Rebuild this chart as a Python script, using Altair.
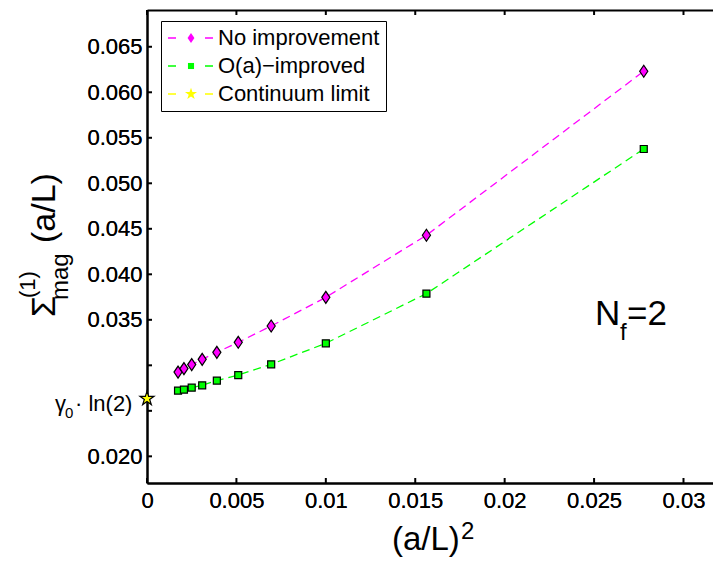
import altair as alt
import pandas as pd

FONT = "Liberation Sans"

inv_L2 = [0.001736, 0.002066, 0.0025, 0.003086, 0.003906, 0.005102, 0.006944, 0.01, 0.015625, 0.027778]
sigma_plain = [0.02926, 0.02964, 0.03008, 0.03066, 0.03143, 0.03253, 0.03432, 0.03747, 0.04429, 0.06231]
sigma_improved = [0.02722, 0.02733, 0.02755, 0.02780, 0.02832, 0.02893, 0.03011, 0.03242, 0.03788, 0.05377]
continuum_x = [0.0]
continuum_y = [0.02634]

series_names = ["No improvement", "O(a)\u2212improved", "Continuum limit"]
series_colors = ["#ff00ff", "#00ff00", "#ffff00"]
# marker outlines on the unit box used by Vega for custom symbols
DIAMOND = "M0,-0.8L0.54,0L0,0.8L-0.54,0Z"
SQUARE = "M-0.48,-0.48H0.48V0.48H-0.48Z"
STAR = ("M0,-1L0.225,-0.309L0.951,-0.309L0.363,0.118L0.588,0.809L0,0.382"
        "L-0.588,0.809L-0.363,0.118L-0.951,-0.309L-0.225,-0.309Z")
series_shapes = [DIAMOND, SQUARE, STAR]

x_ticks = [0, 0.005, 0.01, 0.015, 0.02, 0.025, 0.03]
y_ticks = [0.020, 0.025, 0.030, 0.035, 0.040, 0.045, 0.050, 0.055, 0.060, 0.065]
y_unlabelled = ["0.025", "0.030"]

W, H = 566, 473
TICK = 5

plain = pd.DataFrame({"x": inv_L2, "y": sigma_plain, "series": series_names[0]})
improved = pd.DataFrame({"x": inv_L2, "y": sigma_improved, "series": series_names[1]})
continuum = pd.DataFrame({"x": continuum_x, "y": continuum_y, "series": series_names[2]})
xtick_df = pd.DataFrame({"x": x_ticks})
ytick_df = pd.DataFrame({"y": y_ticks})
one_row = pd.DataFrame({"k": [0]})

xs = alt.Scale(domain=[0, 0.03165], nice=False, zero=False)
ys = alt.Scale(domain=[0.01707, 0.06904], nice=False, zero=False)

ax_bottom = alt.Axis(orient="bottom", values=x_ticks, format="~g", ticks=False, labelFlush=False,
                     labelPadding=7, title=None, grid=False)
label_expr = ("indexof(%s, format(datum.value, '.3f')) >= 0 ? '' : format(datum.value, '.3f')"
              % str(y_unlabelled))
ax_left = alt.Axis(orient="left", values=y_ticks, labelExpr=label_expr, ticks=False,
                   labelFlush=False, labelPadding=5, title=None, grid=False)
ax_top = alt.Axis(orient="top", values=x_ticks, ticks=False, labels=False, title=None, grid=False)

# legend: dashed key lines (own data-driven domain) overlaid with marker keys
stroke_legend = alt.Legend(orient="none", legendX=14, legendY=11, title=None,
                           symbolType="stroke", symbolSize=2025, symbolDash=[8, 29],
                           symbolStrokeWidth=1.3, clipHeight=22, labelFont=FONT,
                           labelFontSize=22, labelColor="black", labelOffset=4,
                           labelExpr="datum.label + '  '", padding=6, rowPadding=6,
                           strokeColor="black", labelLimit=400)
point_legend = alt.Legend(orient="none", legendX=27, legendY=11, title=None,
                          symbolSize=160, symbolStrokeColor="black", symbolStrokeWidth=1,
                          clipHeight=22, labelExpr="''", labelFontSize=22,
                          labelOffset=4, padding=6, rowPadding=6)

fill_enc = alt.Fill("series:N", scale=alt.Scale(domain=series_names, range=series_colors),
                    legend=point_legend)
shape_enc = alt.Shape("series:N", scale=alt.Scale(domain=series_names, range=series_shapes),
                      legend=point_legend)


def dashed(df, color):
    return alt.Chart(df).mark_line(strokeDash=[8, 5], strokeWidth=1.3, color=color).encode(
        x=alt.X("x:Q", scale=xs, axis=ax_bottom),
        y=alt.Y("y:Q", scale=ys, axis=ax_left),
    )


legend_keys = alt.Chart(pd.DataFrame({"series": series_names})).mark_rule(strokeWidth=1.3).encode(
    x=alt.value(0), x2=alt.value(0), y=alt.value(0), y2=alt.value(0),
    stroke=alt.Stroke("series:N", sort=None, scale=alt.Scale(range=series_colors),
                      legend=stroke_legend),
)


def markers(df, size, x_axis=None):
    return alt.Chart(df).mark_point(filled=True, opacity=1, stroke="black",
                                    strokeWidth=1.2, size=size).encode(
        x=alt.X("x:Q", scale=xs, axis=x_axis),
        y=alt.Y("y:Q", scale=ys, axis=None),
        fill=fill_enc,
        shape=shape_enc,
    )


# inward tick marks on the left, bottom and top edges
left_ticks = alt.Chart(ytick_df).mark_rule(color="black", strokeWidth=2).encode(
    y=alt.Y("y:Q", scale=ys, axis=None), x=alt.value(0), x2=alt.value(TICK))
bottom_ticks = alt.Chart(xtick_df).mark_rule(color="black", strokeWidth=2).encode(
    x=alt.X("x:Q", scale=xs, axis=None), y=alt.value(H), y2=alt.value(H - TICK))
top_ticks = alt.Chart(xtick_df).mark_rule(color="black", strokeWidth=2).encode(
    x=alt.X("x:Q", scale=xs, axis=None), y=alt.value(0), y2=alt.value(TICK))


def at_limit(text, dx, dy, size):
    return alt.Chart(continuum).mark_text(text=text, dx=dx, dy=dy, fontSize=size, font=FONT,
                                          align="left", color="black").encode(
        x=alt.X("x:Q", scale=xs, axis=None),
        y=alt.Y("y:Q", scale=ys, axis=None),
    )


limit_label = alt.layer(
    at_limit("\u03b3", -92, 5, 22),
    at_limit("0", -82, 14, 15),
    at_limit("\u00b7 ln(2)", -72, 5, 22),
)


def label(text, x, y, size, angle=0):
    return alt.Chart(one_row).mark_text(text=text, fontSize=size, font=FONT, angle=angle,
                                        align="left", baseline="alphabetic",
                                        color="black").encode(x=alt.value(x), y=alt.value(y))


y_title = alt.layer(
    label("\u03a3", -92, 307, 34, 270),
    label("(1)", -112, 288, 22, 270),
    label("mag", -79, 290, 24, 270),
    label("(a/L)", -92, 233, 34, 270),
)
x_title = alt.layer(
    label("(a/L)", 245, 540, 33),
    label("2", 314, 529, 24),
)
nf_label = alt.layer(
    label("N", 448, 315, 35),
    label("f", 473, 330, 24),
    label("=2", 480, 315, 35),
)

chart = alt.layer(
    dashed(plain, series_colors[0]),
    dashed(improved, series_colors[1]),
    left_ticks, bottom_ticks, top_ticks,
    legend_keys,
    markers(plain, 225, ax_top),
    markers(improved, 213),
    markers(continuum, 217),
    limit_label, y_title, x_title, nf_label,
).resolve_axis(x="independent", y="independent").properties(
    width=W, height=H,
    background="white",
    autosize=alt.AutoSizeParams(type="none"),
    padding={"left": 147, "top": 10, "right": 0, "bottom": 82},
).configure_view(stroke=None).configure_axis(
    domainColor="black", domainWidth=2, tickColor="black", tickWidth=2,
    labelFont=FONT, labelFontSize=22, labelColor="black",
)

chart.save("out.html", embed_options={"renderer": "svg", "actions": False})
